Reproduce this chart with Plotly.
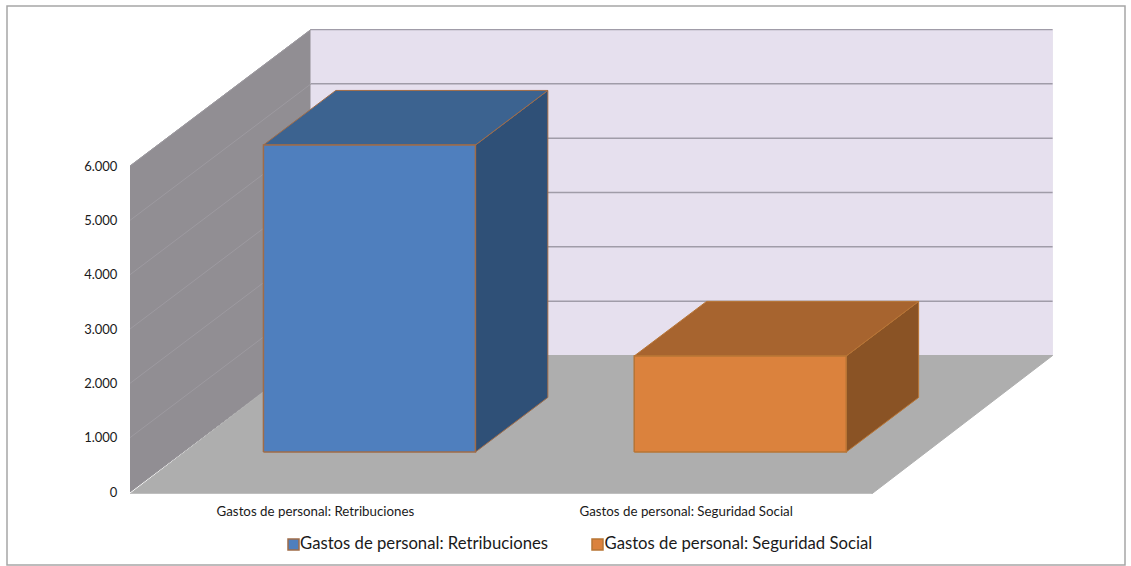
import plotly.graph_objects as go

categories = ["Gastos de personal: Retribuciones", "Gastos de personal: Seguridad Social"]
values = [5650, 1767]
y_ticks = [0, 1000, 2000, 3000, 4000, 5000, 6000]
y_labels = ["0", "1.000", "2.000", "3.000", "4.000", "5.000", "6.000"]

FONT = "Lato, Open Sans, sans-serif"
W, H = 1131, 566
L, R, T, B = 130, 1053, 29, 494      # plot box in px
CAT_PX = 370.8                       # px per category
VAL_PX = 54.33 / 1000                # px per value unit
DEPTH_X = 181 / CAT_PX               # oblique shift (category units) for full depth
DEPTH_Y = 136.5 / VAL_PX             # oblique shift (value units) for full depth
Y0 = -2 / VAL_PX
BAR_W = 212 / CAT_PX
BAR_C = 0.5 + 1 / CAT_PX             # bar centre inside its category
D0, D1 = 0.293, 0.693                # bar extent along depth


def proj(x, v, d):
    return x + d * DEPTH_X, v + d * DEPTH_Y


def poly(pts, fill, line=None, lw=1.0):
    xs, ys = zip(*[proj(*p) for p in pts + pts[:1]])
    return go.Scatter(
        x=xs, y=ys, mode="lines", fill="toself", fillcolor=fill,
        line=dict(color=line or fill, width=lw), hoverinfo="skip",
        showlegend=False, cliponaxis=False,
    )


def seg(a, b, color, lw):
    xs, ys = zip(proj(*a), proj(*b))
    return go.Scatter(x=xs, y=ys, mode="lines", line=dict(color=color, width=lw),
                      hoverinfo="skip", showlegend=False, cliponaxis=False)


def px_x(px):
    return (px - L) / (R - L)


def px_y(px):
    return (B - px) / (B - T)


fig = go.Figure()
top = y_ticks[-1]
n = len(categories)

# walls and floor
fig.add_trace(poly([(0, 0, 0), (0, top, 0), (0, top, 1), (0, 0, 1)], "#918e93"))
fig.add_trace(poly([(0, 0, 1), (0, top, 1), (n, top, 1), (n, 0, 1)], "#e6e0ee"))
fig.add_trace(poly([(0, Y0, 0), (n, Y0, 0), (n, 0, 1), (0, 0, 1)], "#aeaeae"))
fig.add_trace(seg((0, Y0, 0), (n, Y0, 0), "#c4c4c4", 1.5))

# gridlines
for v in y_ticks[1:]:
    fig.add_trace(seg((0, v, 1), (n, v, 1), "#a09ca8", 1.5))
    fig.add_trace(seg((0, v, 0), (0, v, 1), "#9d9aa0", 1))

# bars
colors = [
    ("#4f7fbe", "#3c6390", "#2f5077", "#a06c48"),
    ("#db823d", "#a7642f", "#8a5325", "#b87535"),
]
for i, (val, (front, topc, side, edge)) in enumerate(zip(values, colors)):
    x0 = i + BAR_C - BAR_W / 2
    x1 = i + BAR_C + BAR_W / 2
    fig.add_trace(poly([(x1, 0, D0), (x1, val, D0), (x1, val, D1), (x1, 0, D1)], side, edge, 1))
    fig.add_trace(poly([(x0, val, D0), (x1, val, D0), (x1, val, D1), (x0, val, D1)], topc, edge, 1))
    fig.add_trace(poly([(x0, 0, D0), (x1, 0, D0), (x1, val, D0), (x0, val, D0)], front, edge, 1.5))

# legend entries (swatches sit next to the text as layout rectangles)
for name, legend_id in zip(categories, ["legend", "legend2"]):
    fig.add_trace(go.Scatter(
        x=[None], y=[None], mode="markers", name=name, legend=legend_id, showlegend=True,
        marker=dict(symbol="square", size=11, color="rgba(0,0,0,0)"),
    ))

shapes = [dict(
    type="rect", xref="paper", yref="paper", layer="below",
    x0=px_x(7), x1=px_x(1125), y0=px_y(565), y1=px_y(6),
    line=dict(color="#a6a6a6", width=1.5), fillcolor="white",
)]
for sx, (front, _, _, edge) in zip([288, 592], colors):
    shapes.append(dict(
        type="rect", xref="paper", yref="paper", layer="above",
        x0=px_x(sx), x1=px_x(sx + 11), y0=px_y(550), y1=px_y(539),
        line=dict(color=edge, width=1.5), fillcolor=front,
    ))

legend_style = dict(
    orientation="h", xanchor="left", yanchor="middle", y=px_y(543),
    font=dict(size=16.7, color="#1a1a1a"), bgcolor="rgba(0,0,0,0)", itemwidth=30,
)

fig.update_layout(
    width=W, height=H,
    margin=dict(l=L, r=W - R, t=T, b=H - B, pad=0, autoexpand=False),
    paper_bgcolor="white", plot_bgcolor="rgba(0,0,0,0)",
    font=dict(family=FONT, color="#1a1a1a", size=13),
    xaxis=dict(
        range=[0, (R - L) / CAT_PX], showgrid=False, zeroline=False, showline=False,
        tickmode="array", tickvals=[0.5, 1.5], ticktext=categories,
        ticks="outside", ticklen=5, tickcolor="rgba(0,0,0,0)", tickfont=dict(size=13.3),
        fixedrange=True,
    ),
    yaxis=dict(
        range=[Y0, (B - T) / VAL_PX + Y0], showgrid=False, zeroline=False, showline=False,
        tickmode="array", tickvals=y_ticks, ticktext=y_labels,
        ticks="outside", ticklen=9, tickcolor="rgba(0,0,0,0)", tickfont=dict(size=13),
        fixedrange=True,
    ),
    legend=dict(x=px_x(260), **legend_style),
    legend2=dict(x=px_x(564.5), **legend_style),
    shapes=shapes,
)

fig.write_html("out.html", config={"displayModeBar": False},
               post_script="document.body.style.margin='0';")
